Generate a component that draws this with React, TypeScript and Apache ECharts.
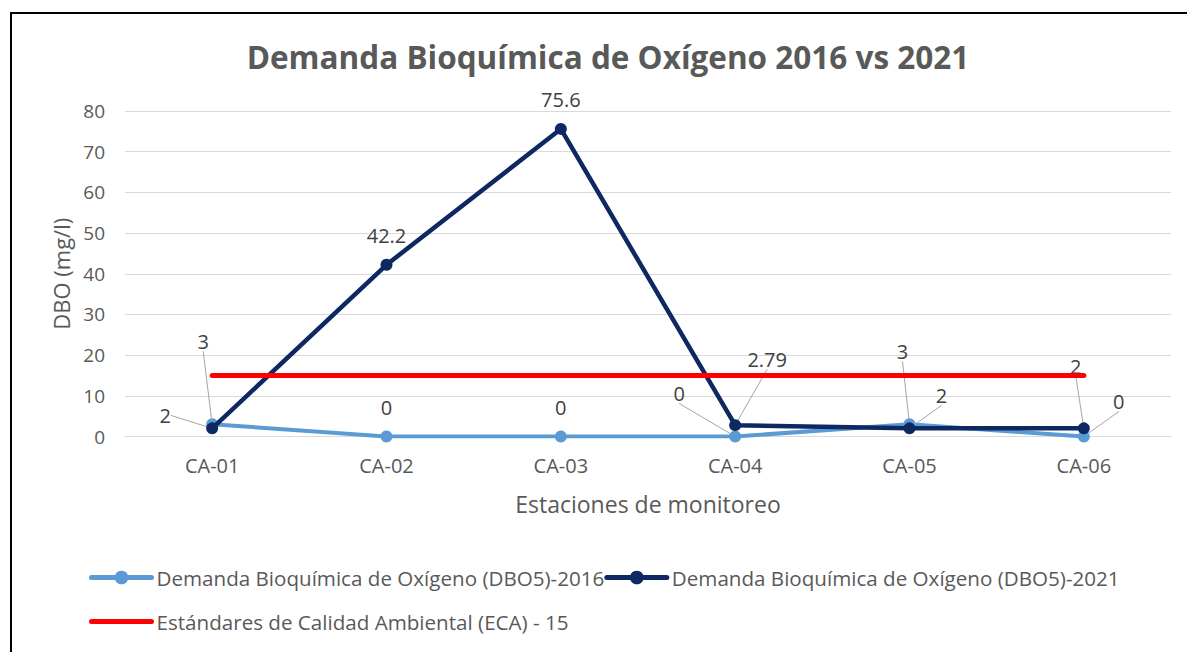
import React, { useEffect, useRef } from "react";
import * as echarts from "echarts";

const categories = ["CA-01", "CA-02", "CA-03", "CA-04", "CA-05", "CA-06"];
const dbo2016 = [3, 0, 0, 0, 3, 0];
const dbo2021 = [2, 42.2, 75.6, 2.79, 2, 2];
const eca = [15, 15, 15, 15, 15, 15];
const yTicks = [0, 10, 20, 30, 40, 50, 60, 70, 80];

const name2016 = "Demanda Bioquímica de Oxígeno (DBO5)-2016";
const name2021 = "Demanda Bioquímica de Oxígeno (DBO5)-2021";
const nameEca = "Estándares de Calidad Ambiental (ECA) - 15";

// label displacements (style only)
const move2016: Array<[number, number] | null> = [[-9, -54], null, null, [-56, -14], [-7, -44], [35, -6]];
const move2021: Array<[number, number] | null> = [[-47, 16], null, null, [32, -37], [32, -4], [-8, -33]];

const FONT = "'Open Sans', sans-serif";
const TXT = "#595959";
const C2016 = "#5B9BD5";
const C2021 = "#0E2862";
const CECA = "#FF0000";

export default function App() {
  const ref = useRef<HTMLDivElement>(null);
  useEffect(() => {
    if (!ref.current) return;
    const chart = echarts.init(ref.current, null, { renderer: "svg" });
    const labelBase = {
      show: true,
      position: "top",
      distance: 13,
      color: "#404040",
      fontSize: 20,
      fontFamily: FONT,
    };
    const mkData = (vals: number[], moves: Array<[number, number] | null>) =>
      vals.map((v, i) => ({ value: v, labelLine: { show: moves[i] != null } }));
    const mkLayout = (moves: Array<[number, number] | null>) => (p: any) => {
      const m = moves[p.dataIndex];
      return m ? { dx: m[0], dy: m[1] } : {};
    };
    const legendText = { fontFamily: FONT, fontSize: 20.6, color: TXT };
    chart.setOption({
      animation: false,
      backgroundColor: "#ffffff",
      textStyle: { fontFamily: FONT },
      title: {
        text: "Demanda Bioquímica de Oxígeno 2016 vs 2021",
        left: 603,
        textAlign: "center",
        top: 35,
        textStyle: { fontFamily: FONT, fontWeight: "bold", fontSize: 31.5, color: TXT },
      },
      graphic: [
        {
          type: "rect",
          shape: { x: 11, y: 13, width: 1190, height: 700 },
          style: { fill: "none", stroke: "#000000", lineWidth: 2 },
          silent: true,
          z: 100,
        },
      ],
      grid: { left: 125, right: 16, top: 111, bottom: 215.5, containLabel: false },
      legend: [
        {
          data: [
            { name: name2016, lineStyle: { width: 5, cap: "round" } },
            { name: name2021, lineStyle: { width: 5, cap: "round" } },
          ],
          left: 89,
          top: 567,
          padding: 0,
          itemWidth: 60,
          itemHeight: 17,
          itemGap: 0,
          textStyle: legendText,
        },
        {
          data: [{ name: nameEca, lineStyle: { width: 5, cap: "round" }, itemStyle: { opacity: 0 } }],
          left: 89,
          top: 611,
          padding: 0,
          itemWidth: 60,
          itemHeight: 17,
          textStyle: legendText,
        },
      ],
      xAxis: {
        type: "category",
        data: categories,
        boundaryGap: true,
        name: "Estaciones de monitoreo",
        nameLocation: "middle",
        nameGap: 56,
        nameTextStyle: { fontFamily: FONT, fontSize: 23, color: TXT },
        axisLine: { show: true, lineStyle: { color: "#D9D9D9", width: 1 } },
        axisTick: { show: false },
        axisLabel: { margin: 19, fontFamily: FONT, fontSize: 20, color: TXT },
      },
      yAxis: {
        type: "value",
        min: yTicks[0],
        max: yTicks[yTicks.length - 1],
        interval: yTicks[1] - yTicks[0],
        name: "DBO (mg/l)",
        nameLocation: "middle",
        nameGap: 42,
        nameTextStyle: { fontFamily: FONT, fontSize: 22, color: TXT },
        axisLine: { show: false },
        axisTick: { show: false },
        axisLabel: { margin: 20, fontFamily: FONT, fontSize: 19, color: TXT },
        splitLine: { lineStyle: { color: "#D9D9D9", width: 1 } },
      },
      series: [
        {
          name: name2016,
          type: "line",
          data: mkData(dbo2016, move2016),
          symbol: "circle",
          symbolSize: 12,
          itemStyle: { color: C2016 },
          lineStyle: { color: C2016, width: 4 },
          label: labelBase,
          labelLine: { show: true, lineStyle: { color: "#A6A6A6", width: 1 } },
          labelLayout: mkLayout(move2016),
          z: 2,
        },
        {
          name: name2021,
          type: "line",
          data: mkData(dbo2021, move2021),
          symbol: "circle",
          symbolSize: 12,
          itemStyle: { color: C2021 },
          lineStyle: { color: C2021, width: 4.5 },
          label: labelBase,
          labelLine: { show: true, lineStyle: { color: "#A6A6A6", width: 1 } },
          labelLayout: mkLayout(move2021),
          z: 3,
        },
        {
          name: nameEca,
          type: "line",
          data: eca,
          symbol: "none",
          itemStyle: { color: CECA },
          lineStyle: { color: CECA, width: 5, cap: "round" },
          z: 4,
        },
      ],
    });
    return () => chart.dispose();
  }, []);
  return (
    <div style={{ position: "fixed", left: 0, top: 0, width: 1187, height: 652, background: "#fff" }}>
      <div ref={ref} style={{ width: 1187, height: 652 }} />
    </div>
  );
}
